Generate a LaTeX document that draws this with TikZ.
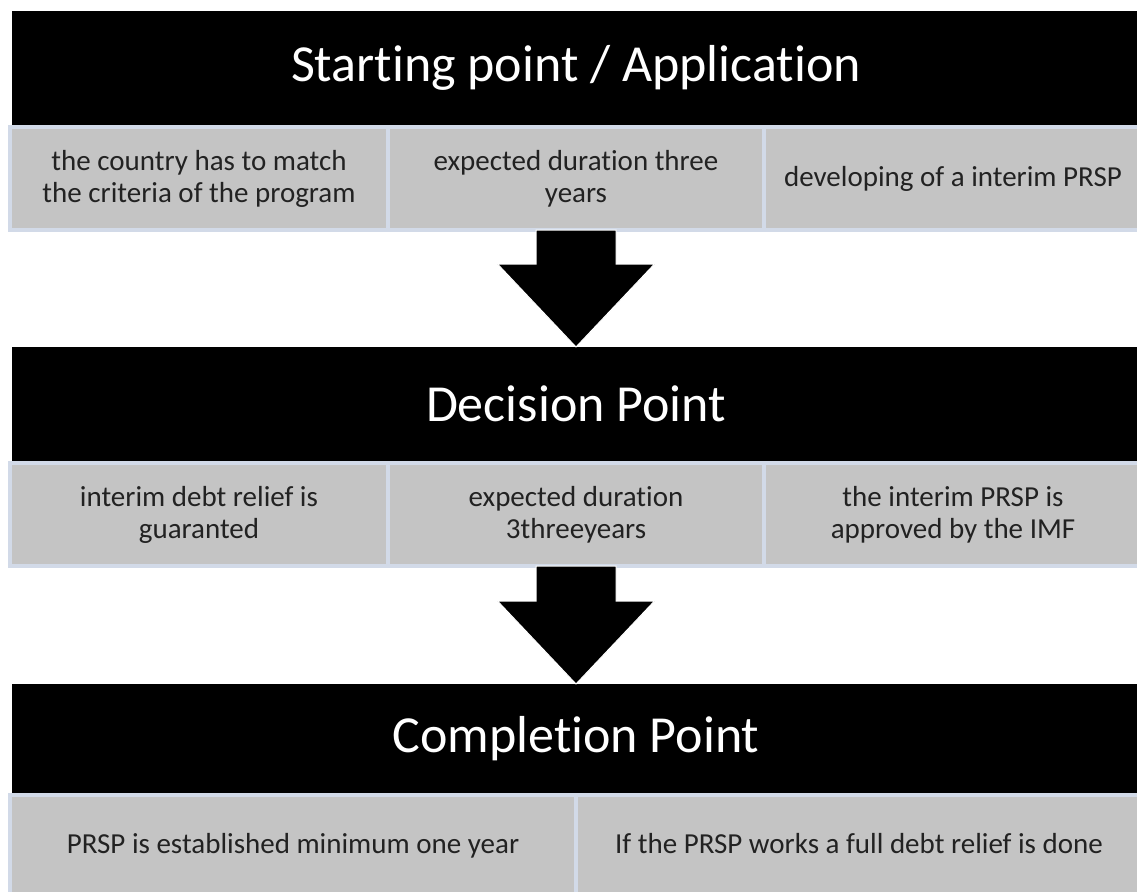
\documentclass[tikz,border=0pt]{standalone}
\usepackage{fontspec}
\setmainfont[Ligatures={NoCommon}]{Carlito}
\usetikzlibrary{calc}
\definecolor{cellgrey}{RGB}{196,196,196}
\definecolor{cellline}{RGB}{210,218,232}
\definecolor{celltext}{RGB}{34,34,34}
\begin{document}
\begin{tikzpicture}[x=1pt,y=-1pt,
  titlebar/.style={fill=black, text=white, inner sep=0pt, outer sep=0pt,
    font=\fontsize{52}{60}\selectfont, minimum width=1128pt},
  cell/.style={fill=cellgrey, draw=cellline, line width=4pt, inner sep=0pt, outer sep=0pt,
    text=celltext, align=center, font=\fontsize{29}{32}\selectfont, minimum height=103pt},
  blockarrow/.style={fill=black, draw=white, line width=1pt, line join=miter}
]
\useasboundingbox (0,0) rectangle (1137,891);
\clip (0,0) rectangle (1137,891);

% stage 1
\node[titlebar, minimum height=114pt] (bar1) at (576,68) {Starting point / Application};
\node[cell, minimum width=378pt] (r1a) at (199,178.5) {the country has to match\\the criteria of the program};
\node[cell, minimum width=376pt] (r1b) at (576,178.5) {expected duration three\\years};
\node[cell, minimum width=378pt] (r1c) at (953,178.5) {developing of a interim PRSP\vphantom{hy}};

% stage 2
\node[titlebar, minimum height=114pt] (bar2) at (576,404) {Decision Point};
\node[cell, minimum width=378pt] (r2a) at (199,514.5) {interim debt relief is\\guaranted};
\node[cell, minimum width=376pt] (r2b) at (576,514.5) {expected duration\\3threeyears};
\node[cell, minimum width=378pt] (r2c) at (953,514.5) {the interim PRSP is\\approved by the IMF};

% stage 3
\node[titlebar, minimum height=109pt] (bar3) at (576,738.5) {Completion Point};
\node[cell, minimum width=566pt] (r3a) at (293,846) {PRSP is established minimum one year\vphantom{hy}};
\node[cell, minimum width=566pt] (r3b) at (859,846) {If the PRSP works a full debt relief is done\vphantom{hy}};

% block arrows
\fill[blockarrow] ($(r1b.south)+(-40,0)$) -- ($(bar2.north)+(-40,-83)$) -- ($(bar2.north)+(-78.5,-83)$)
  -- (bar2.north) -- ($(bar2.north)+(78.5,-83)$) -- ($(bar2.north)+(40,-83)$) -- ($(r1b.south)+(40,0)$) -- cycle;
\fill[blockarrow] ($(r2b.south)+(-40,0)$) -- ($(bar3.north)+(-40,-83)$) -- ($(bar3.north)+(-78.5,-83)$)
  -- (bar3.north) -- ($(bar3.north)+(78.5,-83)$) -- ($(bar3.north)+(40,-83)$) -- ($(r2b.south)+(40,0)$) -- cycle;
\end{tikzpicture}
\end{document}
